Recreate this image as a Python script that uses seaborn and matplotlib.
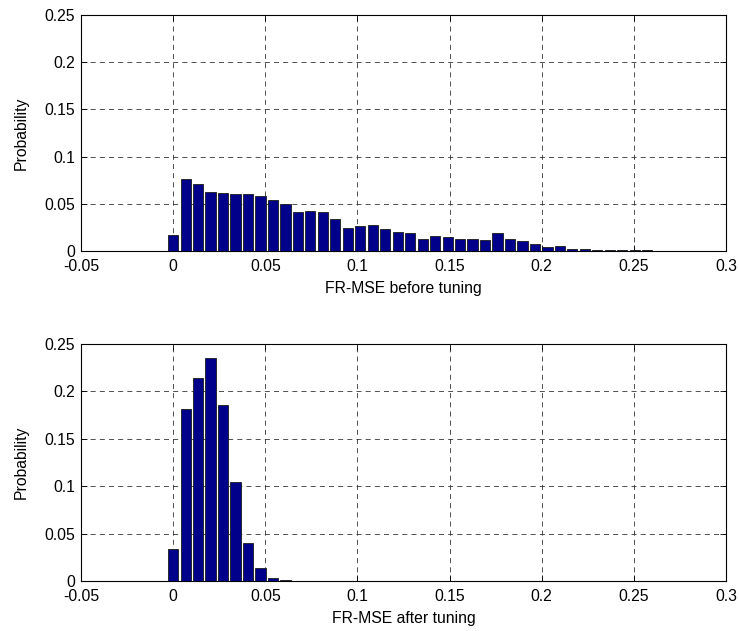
import numpy as np
import pandas as pd
import matplotlib
matplotlib.use("Agg")
import matplotlib.pyplot as plt
from matplotlib.ticker import FuncFormatter, MultipleLocator
import seaborn as sns

# ---- data ----
bin_width = 0.00677
bin_index = list(range(40))
before_tuning = [0.0173, 0.0762, 0.0706, 0.0628, 0.0617, 0.0600, 0.0600, 0.0582,
                 0.0540, 0.0498, 0.0409, 0.0423, 0.0409, 0.0335, 0.0245, 0.0262,
                 0.0280, 0.0234, 0.0206, 0.0191, 0.0131, 0.0160, 0.0145, 0.0131,
                 0.0131, 0.0117, 0.0191, 0.0131, 0.0101, 0.0074, 0.0040, 0.0050,
                 0.0024, 0.0024, 0.0012, 0.0010, 0.0008, 0.0008, 0.0006, 0.0005]
after_tuning = [0.0339, 0.1810, 0.2144, 0.2350, 0.1855, 0.1044, 0.0398, 0.0134,
                0.0032, 0.0014] + [0.0] * 30
xlabels = ["FR-MSE before tuning", "FR-MSE after tuning"]
ylabel = "Probability"

sns.set_theme(style="white")
plt.rcParams['font.family'] = ['Liberation Sans', 'DejaVu Sans']
plt.rcParams['lines.scale_dashes'] = False

W, H = 739, 631
fig = plt.figure(figsize=(W / 100, H / 100), dpi=100)
fig.patch.set_facecolor('white')

boxes = [(81, 15, 726, 251), (81, 344, 726, 581)]
centers = np.array(bin_index) * bin_width
edges = [float(c - bin_width / 2) for c in centers] + [float(centers[-1] + bin_width / 2)]

fmt = FuncFormatter(lambda v, p: ('%g' % round(v, 4)))
FS = 11.3

for (l, t, r, b), vals, xl in zip(boxes, [before_tuning, after_tuning], xlabels):
    ax = fig.add_axes([l / W, 1 - b / H, (r - l) / W, (b - t) / H])
    df = pd.DataFrame({'x': centers, 'p': vals})
    sns.histplot(data=df, x='x', weights='p', bins=edges, shrink=0.82,
                 color='#00008A', edgecolor='#1a1a1a', linewidth=0.6, alpha=1,
                 ax=ax)
    ax.set_xlim(-0.05, 0.3)
    ax.set_ylim(0, 0.25)
    ax.xaxis.set_major_locator(MultipleLocator(0.05))
    ax.yaxis.set_major_locator(MultipleLocator(0.05))
    ax.xaxis.set_major_formatter(fmt)
    ax.yaxis.set_major_formatter(fmt)
    ax.grid(True, color='0.2', linestyle=(0, (3.6, 3.0)), linewidth=0.6)
    ax.set_axisbelow(True)
    for s in ax.spines.values():
        s.set_visible(True)
        s.set_color('black')
        s.set_linewidth(0.8)
    ax.tick_params(direction='in', length=4, width=0.6, top=True, right=True,
                   bottom=True, left=True, labelsize=FS, colors='black')
    ax.tick_params(axis='x', pad=5.5)
    ax.tick_params(axis='y', pad=4.3)
    ax.set_xlabel(xl, fontsize=FS, labelpad=5, color='black')
    ax.set_ylabel(ylabel, fontsize=FS, labelpad=11, color='black')

fig.savefig('out.png', dpi=100, facecolor='white')
